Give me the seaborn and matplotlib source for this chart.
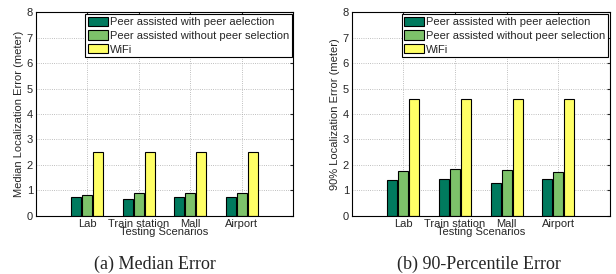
import pandas as pd
import seaborn as sns
import matplotlib.pyplot as plt

# values
scenarios = ['Lab', 'Train station', 'Mall', 'Airport']
series = ['Peer assisted with peer aelection',
          'Peer assisted without peer selection',
          'WiFi']

median_with = [0.73, 0.67, 0.73, 0.75]
median_without = [0.83, 0.88, 0.91, 0.90]
median_wifi = [2.5, 2.5, 2.5, 2.5]

p90_with = [1.40, 1.45, 1.31, 1.43]
p90_without = [1.75, 1.86, 1.82, 1.71]
p90_wifi = [4.58, 4.58, 4.58, 4.58]

colors = ['#007a5e', '#7dc26a', '#ffff66']


def to_long(a, b, c):
    rows = []
    for name, vals in zip(series, [a, b, c]):
        for s, v in zip(scenarios, vals):
            rows.append({'Scenario': s, 'Method': name, 'Error': v})
    return pd.DataFrame(rows)


sns.set_style("white")
plt.rcParams['font.family'] = ['Liberation Sans', 'DejaVu Sans']

fig = plt.figure(figsize=(6.16, 2.74), dpi=100)
ax1 = fig.add_axes([0.058, 0.212, 0.418, 0.744])
ax2 = fig.add_axes([0.571, 0.212, 0.419, 0.744])

panels = [
    (ax1, to_long(median_with, median_without, median_wifi),
     'Median Localization Error (meter)', '(a) Median Error', 0.251),
    (ax2, to_long(p90_with, p90_without, p90_wifi),
     '90% Localization Error (meter)', '(b) 90-Percentile Error', 0.778),
]

for ax, df, ylabel, caption, cx in panels:
    sns.barplot(data=df, x='Scenario', y='Error', hue='Method',
                palette=colors, saturation=1, width=0.64, gap=0.1,
                edgecolor='black', linewidth=0.8, ax=ax)
    ax.set_xlim(-1, 4)
    ax.set_ylim(0, 8)
    ax.set_yticks(range(0, 9))
    ax.set_xlabel('Testing Scenarios', fontsize=8, labelpad=-1)
    ax.set_ylabel(ylabel, fontsize=8, labelpad=2)
    ax.tick_params(axis='both', labelsize=8, direction='in', length=2.5,
                   top=True, right=True, pad=2)
    ax.grid(True, linestyle=':', color='#aaaaaa', linewidth=0.6)
    ax.set_axisbelow(True)
    for sp in ax.spines.values():
        sp.set_color('black')
        sp.set_linewidth(0.8)
    leg = ax.legend(loc='upper right', fontsize=8, frameon=True, fancybox=False,
                    borderaxespad=0.15, handlelength=1.8, handleheight=0.9,
                    handletextpad=0.15, labelspacing=0.3, borderpad=0.25)
    leg.get_frame().set_edgecolor('black')
    leg.get_frame().set_linewidth(0.8)
    leg.get_frame().set_alpha(1)
    fig.text(cx, 0.035, caption, ha='center', va='center', fontsize=13,
             family=['Liberation Serif', 'DejaVu Serif'])

fig.savefig('out.png', dpi=100)
